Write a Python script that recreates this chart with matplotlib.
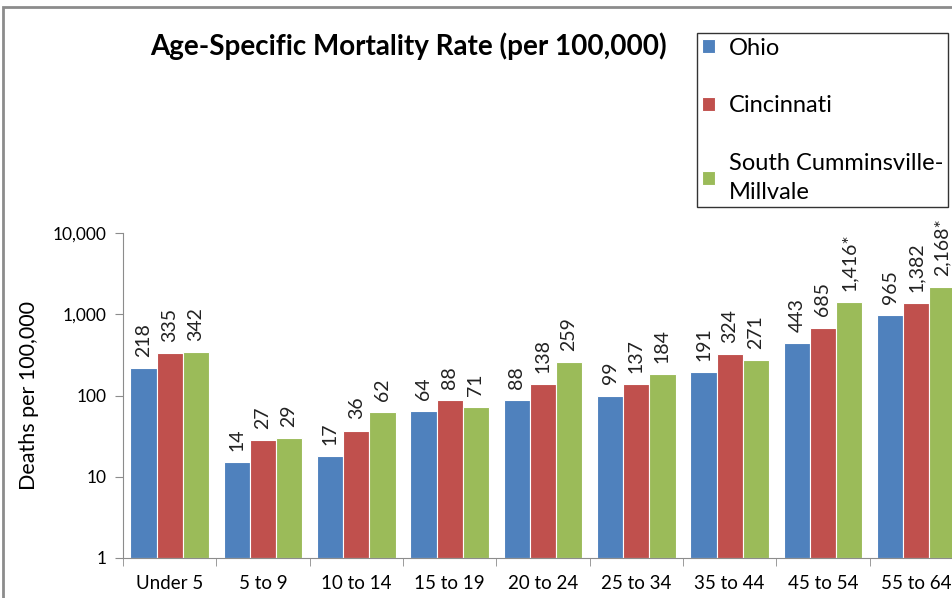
import matplotlib
matplotlib.use('Agg')
import matplotlib.pyplot as plt
from matplotlib.patches import Rectangle
from matplotlib.ticker import FixedLocator, NullLocator
import numpy as np

categories = ['Under 5', '5 to 9', '10 to 14', '15 to 19', '20 to 24',
              '25 to 34', '35 to 44', '45 to 54', '55 to 64']
ohio = [218, 14, 17, 64, 88, 99, 191, 443, 965]
cincinnati = [335, 27, 36, 88, 138, 137, 324, 685, 1382]
scm = [342, 29, 62, 71, 259, 184, 271, 1416, 2168]
scm_labels = ['342', '29', '62', '71', '259', '184', '271', '1,416*', '2,168*']
series_names = ['Ohio', 'Cincinnati', 'South Cumminsville-\nMillvale']
colors = ['#4F81BD', '#C0504D', '#9BBB59']
yticks = [1, 10, 100, 1000, 10000]

plt.rcParams['font.family'] = ['Lato', 'DejaVu Sans']

W, H = 953, 598
fig = plt.figure(figsize=(W / 100, H / 100), dpi=100)

# outer chart border (cropped on right/bottom)
fig.patches.append(Rectangle((3 / W, -0.1), 1.2, 1 - 7 / H + 0.1,
                             transform=fig.transFigure, fill=False,
                             edgecolor='#8c8c8c', lw=2))

x0, x1 = 123, 963
ytop, ybot = 233, 558
ax = fig.add_axes([x0 / W, 1 - ybot / H, (x1 - x0) / W, (ybot - ytop) / H])

x = np.arange(len(categories))
bw = 0.28
offsets = [-bw, 0, bw]
all_series = [ohio, cincinnati, scm]
all_labels = [[f'{v:,}' for v in ohio], [f'{v:,}' for v in cincinnati], scm_labels]

for vals, labs, off, c, name in zip(all_series, all_labels, offsets, colors, series_names):
    bars = ax.bar(x + off, vals, bw, bottom=1, color=c, edgecolor='white',
                  linewidth=0.8, label=name)
    for b, lab in zip(bars, labs):
        ax.annotate(lab, (b.get_x() + b.get_width() / 2, b.get_height() + 1),
                    xytext=(0, 8), textcoords='offset points',
                    rotation=90, ha='center', va='bottom', fontsize=14,
                    color='#222222')

ax.set_yscale('log')
ax.set_ylim(1, 10000)
ax.set_xlim(-0.5, len(categories) - 0.5)
ax.yaxis.set_major_locator(FixedLocator(yticks))
ax.yaxis.set_minor_locator(NullLocator())
ax.set_yticklabels([f'{t:,}' for t in yticks], fontsize=12.5)
ax.set_xticks(x)
ax.set_xticklabels(categories, fontsize=13.5)
ax.xaxis.set_minor_locator(FixedLocator(np.arange(len(categories) + 1) - 0.5))
ax.tick_params(axis='x', which='major', length=0, pad=12)
ax.tick_params(axis='x', which='minor', length=6, color='#8c8c8c', direction='out')
ax.tick_params(axis='y', length=6, color='#8c8c8c', pad=6)
for s in ['top', 'right']:
    ax.spines[s].set_visible(False)
for s in ['left', 'bottom']:
    ax.spines[s].set_color('#8c8c8c')
ax.set_ylabel('Deaths per 100,000', fontsize=15.5, labelpad=10)

fig.text(408 / W, 1 - 46 / H, 'Age-Specific Mortality Rate (per 100,000)',
         ha='center', va='center', fontsize=20, fontweight='bold')

leg = fig.legend(loc='upper left', bbox_to_anchor=(697 / W, 1 - 33 / H),
                 fontsize=17, frameon=True, fancybox=False, edgecolor='black',
                 handlelength=0.55, handleheight=0.55, handletextpad=0.6,
                 labelspacing=1.55, borderpad=0.2, borderaxespad=0)
leg.get_frame().set_linewidth(1)
leg.get_texts()[2].set_linespacing(1.45)

fig.savefig('out.png', dpi=100)
